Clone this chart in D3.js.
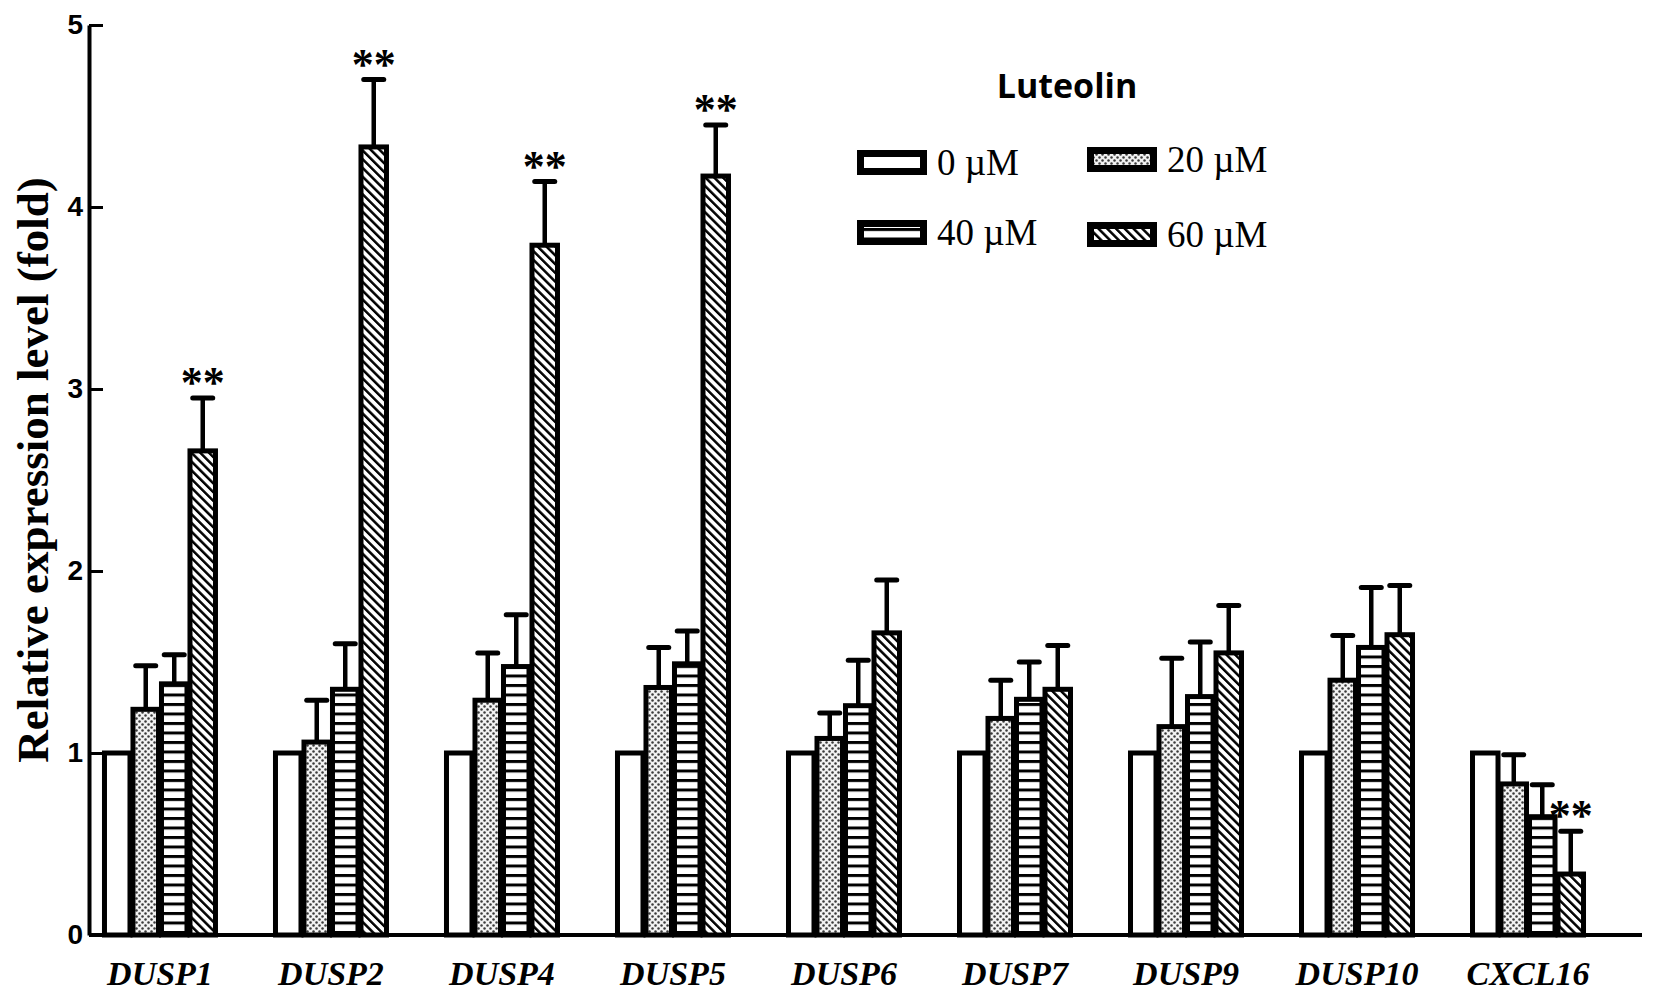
<!DOCTYPE html>
<html><head><meta charset="utf-8">
<script src="https://cdn.jsdelivr.net/npm/d3@7"></script>
<style>body{margin:0;background:#fff}svg{display:block}</style>
</head><body>
<svg id="chart" width="1654" height="999"></svg>
<script>
const genes = ["DUSP1","DUSP2","DUSP4","DUSP5","DUSP6","DUSP7","DUSP9","DUSP10","CXCL16"];
const doses = ["0 µM","20 µM","40 µM","60 µM"];
const val0  = [1,1,1,1,1,1,1,1,1];
const val20 = [1.24,1.06,1.29,1.36,1.08,1.19,1.145,1.40,0.83];
const val40 = [1.38,1.35,1.475,1.49,1.26,1.295,1.31,1.58,0.65];
const val60 = [2.66,4.33,3.79,4.17,1.66,1.35,1.55,1.65,0.335];
const err0  = [0,0,0,0,0,0,0,0,0];
const err20 = [0.24,0.23,0.26,0.22,0.14,0.21,0.375,0.245,0.16];
const err40 = [0.16,0.25,0.285,0.18,0.25,0.205,0.30,0.33,0.176];
const err60 = [0.29,0.37,0.35,0.28,0.29,0.24,0.26,0.27,0.235];
const sig60 = ["**","**","**","**","","","","","**"];
const yTicks = [0,1,2,3,4,5];

const values = [val0,val20,val40,val60];
const errors = [err0,err20,err40,err60];
const fills = ["url(#pWhite)","url(#pDots)","url(#pHLines)","url(#pDiag)"];

const svg = d3.select("#chart");
const defs = svg.append("defs");
defs.append("pattern").attr("id","pWhite").attr("patternUnits","userSpaceOnUse")
  .attr("width",4).attr("height",4).append("rect").attr("width",4).attr("height",4).attr("fill","#fff");
const pd = defs.append("pattern").attr("id","pDots").attr("patternUnits","userSpaceOnUse")
  .attr("width",6).attr("height",6);
pd.append("rect").attr("width",6).attr("height",6).attr("fill","#f2f2f2");
pd.append("circle").attr("cx",1.5).attr("cy",1.5).attr("r",1.25).attr("fill","#3a3a3a");
pd.append("circle").attr("cx",4.5).attr("cy",4.5).attr("r",1.25).attr("fill","#3a3a3a");
const ph = defs.append("pattern").attr("id","pHLines").attr("patternUnits","userSpaceOnUse")
  .attr("width",10).attr("height",9.5);
ph.append("rect").attr("width",10).attr("height",9.5).attr("fill","#fff");
ph.append("rect").attr("y",0).attr("width",10).attr("height",3).attr("fill","#000");
const pg = defs.append("pattern").attr("id","pDiag").attr("patternUnits","userSpaceOnUse")
  .attr("width",6.2).attr("height",6.2).attr("patternTransform","rotate(-45)");
pg.append("rect").attr("width",6.2).attr("height",6.2).attr("fill","#fff");
pg.append("rect").attr("x",0).attr("width",2.5).attr("height",6.2).attr("fill","#000");

const x0 = 89, x1 = 1642, yBase = 935, yTop = 25;
const x = d3.scaleBand().domain(genes).range([x0,x1]).paddingInner(1/3).paddingOuter(0.2075).align(0.197);
const xs = d3.scaleBand().domain(d3.range(4)).range([0,x.bandwidth()]);
const y = d3.scaleLinear().domain([0,5]).range([yBase,yTop]);

const data = [];
genes.forEach((g,i)=>{ for(let k=0;k<4;k++) data.push({g,i,k,v:values[k][i],e:errors[k][i]}); });

const eb = svg.append("g");
data.filter(d=>d.e>0).forEach(d=>{
  const cx = x(d.g)+xs(d.k)+xs.bandwidth()/2;
  eb.append("line").attr("x1",cx).attr("x2",cx).attr("y1",y(d.v)).attr("y2",y(d.v+d.e))
    .attr("stroke","#000").attr("stroke-width",4.5);
  eb.append("line").attr("x1",cx-10).attr("x2",cx+10).attr("y1",y(d.v+d.e)).attr("y2",y(d.v+d.e))
    .attr("stroke","#000").attr("stroke-width",5).attr("stroke-linecap","round");
});

svg.append("g").selectAll("rect").data(data).join("rect")
  .attr("x",d=>x(d.g)+xs(d.k)+1.5)
  .attr("width",xs.bandwidth()-3)
  .attr("y",d=>y(d.v))
  .attr("height",d=>y(0)-y(d.v))
  .attr("fill",d=>fills[d.k])
  .attr("stroke","#000").attr("stroke-width",5);

genes.forEach((g,i)=>{
  if(!sig60[i]) return;
  const cx = x(g)+xs(3)+xs.bandwidth()/2;
  svg.append("text").attr("x",cx).attr("y",y(val60[i]+err60[i])-1)
    .attr("text-anchor","middle").attr("font-family","Liberation Serif, serif")
    .attr("font-weight","bold").attr("font-size",44).text(sig60[i]);
});

svg.append("line").attr("x1",x0).attr("x2",x1).attr("y1",yBase).attr("y2",yBase)
  .attr("stroke","#000").attr("stroke-width",4);
const ya = svg.append("g").attr("transform",`translate(${x0},0)`)
  .call(d3.axisLeft(y).tickValues(yTicks).tickFormat(d3.format("d")).tickSizeInner(-14).tickSizeOuter(0).tickPadding(6));
ya.select(".domain").attr("stroke","#000").attr("stroke-width",4);
ya.selectAll(".tick line").attr("stroke","#000").attr("stroke-width",3);
ya.selectAll(".tick text").attr("font-family","Liberation Sans, Arial, sans-serif")
  .attr("font-weight","bold").attr("font-size",28).attr("fill","#000");

svg.append("g").selectAll("text").data(genes).join("text")
  .attr("x",d=>x(d)+x.bandwidth()/2).attr("y",985)
  .attr("text-anchor","middle").attr("font-family","Liberation Serif, serif")
  .attr("font-weight","bold").attr("font-style","italic").attr("font-size",34)
  .text(d=>d);

svg.append("text").attr("transform","translate(48,470) rotate(-90)")
  .attr("text-anchor","middle").attr("font-family","Liberation Serif, serif")
  .attr("font-weight","bold").attr("font-size",45).text("Relative expression level (fold)");

svg.append("text").attr("x",1067).attr("y",98).attr("text-anchor","middle")
  .attr("font-family","Open Sans, sans-serif").attr("font-weight","bold").attr("font-size",34)
  .text("Luteolin");
const legPos = [[857,150],[1087,147],[857,220],[1087,222]];
doses.forEach((d,k)=>{
  const [lx,ly] = legPos[k];
  svg.append("rect").attr("x",lx+3.5).attr("y",ly+3.5).attr("width",63).attr("height",18)
    .attr("fill",fills[k]).attr("stroke","#000").attr("stroke-width",7);
  svg.append("text").attr("x",lx+80).attr("y",ly+25)
    .attr("font-family","Liberation Serif, serif").attr("font-size",37).text(d);
});
</script>
</body></html>
